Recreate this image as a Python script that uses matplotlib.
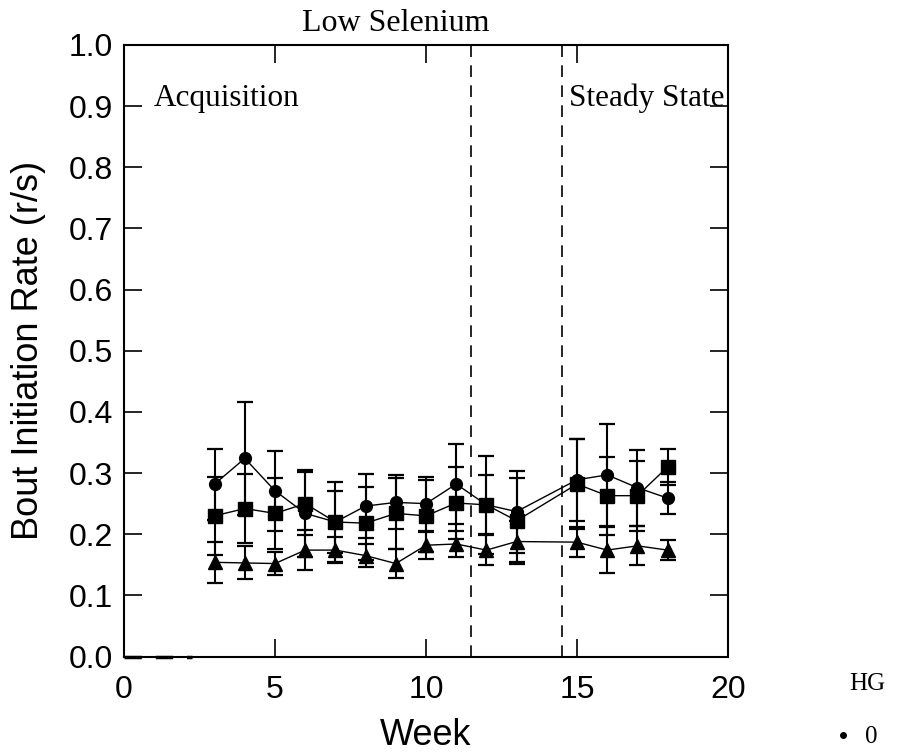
import matplotlib
matplotlib.use("Agg")
import matplotlib.pyplot as plt
from matplotlib.lines import Line2D

# ---- data ----
weeks = [3, 4, 5, 6, 7, 8, 9, 10, 11, 12, 13, 15, 16, 17, 18]

circle_vals = [0.282, 0.324, 0.271, 0.234, 0.220, 0.246, 0.252, 0.250, 0.282, 0.248, 0.237, 0.289, 0.297, 0.276, 0.259]
circle_err  = [0.058, 0.092, 0.065, 0.071, 0.066, 0.052, 0.044, 0.044, 0.065, 0.080, 0.067, 0.067, 0.084, 0.062, 0.026]

square_vals = [0.230, 0.242, 0.234, 0.250, 0.220, 0.218, 0.234, 0.230, 0.251, 0.248, 0.222, 0.282, 0.263, 0.263, 0.310]
square_err  = [0.064, 0.057, 0.058, 0.052, 0.050, 0.060, 0.058, 0.059, 0.059, 0.048, 0.070, 0.074, 0.064, 0.057, 0.030]

triangle_vals = [0.154, 0.153, 0.152, 0.174, 0.174, 0.165, 0.152, 0.182, 0.184, 0.174, 0.188, 0.187, 0.174, 0.181, 0.174]
triangle_err  = [0.034, 0.027, 0.019, 0.033, 0.021, 0.019, 0.023, 0.022, 0.022, 0.025, 0.034, 0.024, 0.037, 0.032, 0.016]

baseline_weeks = [0, 2.25]
baseline_vals = [0, 0]

phase_bounds = [11.5, 14.5]

x_ticks = [0, 5, 10, 15, 20]
y_ticks = [0.0, 0.1, 0.2, 0.3, 0.4, 0.5, 0.6, 0.7, 0.8, 0.9, 1.0]

# ---- figure ----
sans = "Liberation Sans"
serif = "Liberation Serif"

fig = plt.figure(figsize=(9.14, 7.53), dpi=100)
ax = fig.add_axes([124/914, 1 - 656.5/753, (728-124)/914, (656.5-45)/753])

eb_kw = dict(color="black", lw=1.0, elinewidth=1.5, capsize=6, capthick=1.6, zorder=3)
ax.errorbar(weeks, circle_vals, yerr=circle_err, fmt="-o", ms=8.5, **eb_kw)
ax.errorbar(weeks, square_vals, yerr=square_err, fmt="-s", ms=9.5, **eb_kw)
ax.errorbar(weeks, triangle_vals, yerr=triangle_err, fmt="-^", ms=9.5, **eb_kw)

ax.plot(baseline_weeks, baseline_vals, color="black", lw=2.5, ls=(0, (5, 4)), clip_on=False, zorder=4)

for xb in phase_bounds:
    ax.axvline(xb, color="black", lw=1.2, ls=(0, (7, 5)), zorder=2)

ax.set_xlim(0, 20)
ax.set_ylim(0, 1.0)
ax.set_xticks(x_ticks)
ax.set_xticklabels([str(t) for t in x_ticks])
ax.set_yticks(y_ticks)
ax.set_yticklabels([f"{t:.1f}" for t in y_ticks])

for s in ax.spines.values():
    s.set_linewidth(1.5)
ax.tick_params(direction="in", length=13, width=1.2, top=True, right=True,
               labelsize=23, pad=8)
ax.tick_params(axis="x", pad=13)
for lab in ax.get_xticklabels() + ax.get_yticklabels():
    lab.set_fontfamily(sans)

ax.set_xlabel("Week", fontsize=26, fontfamily=sans, labelpad=10)
ax.set_ylabel("Bout Initiation Rate (r/s)", fontsize=26, fontfamily=sans, labelpad=16)

ax.text(1.0, 0.901, "Acquisition", fontsize=22.5, fontfamily=serif, ha="left", va="baseline")
ax.text(14.73, 0.901, "Steady State", fontsize=22.5, fontfamily=serif, ha="left", va="baseline")
ax.text(9.0, 1.012, "Low Selenium", fontsize=23, fontfamily=serif, ha="center", va="bottom")

fig.text(867/914, 1 - 684/753, "HG", fontsize=18, fontfamily=serif, ha="center", va="center")
handle = Line2D([], [], marker="o", ls="none", color="black", ms=4)
ax.legend([handle], ["0"], loc="center left", bbox_to_anchor=(835/914, 1 - 737/753),
          bbox_transform=fig.transFigure, frameon=False, borderpad=0, borderaxespad=0,
          handlelength=0.6, handletextpad=0.6, prop={"family": serif, "size": 18})

fig.savefig("out.png", dpi=100)
